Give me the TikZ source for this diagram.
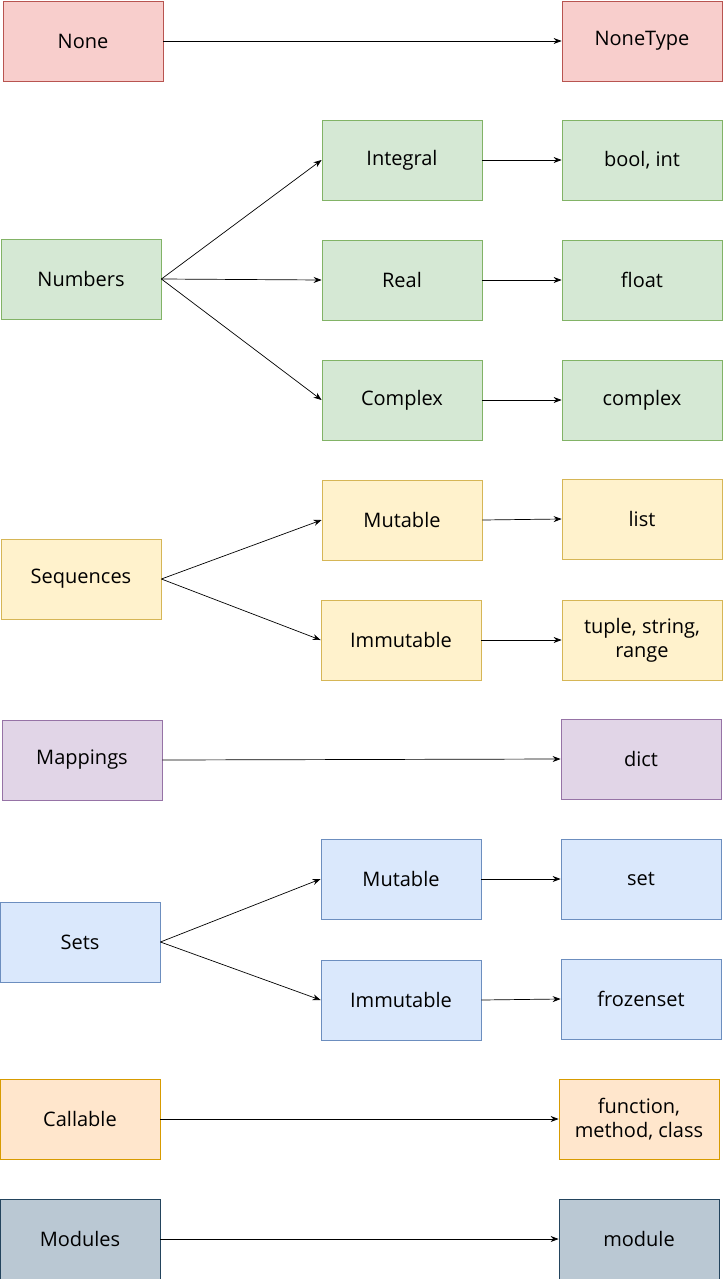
\documentclass[tikz,border=0pt]{standalone}
\usepackage{fontspec}
\setmainfont{Open Sans}
\usetikzlibrary{arrows.meta}
\definecolor{rf}{HTML}{F8CECC}\definecolor{rs}{HTML}{B85450}
\definecolor{gf}{HTML}{D5E8D4}\definecolor{gs}{HTML}{82B366}
\definecolor{yf}{HTML}{FFF2CC}\definecolor{ys}{HTML}{D6B656}
\definecolor{pf}{HTML}{E1D5E7}\definecolor{ps}{HTML}{9673A6}
\definecolor{bf}{HTML}{DAE8FC}\definecolor{bs}{HTML}{6C8EBF}
\definecolor{of}{HTML}{FFE6CC}\definecolor{os}{HTML}{D79B00}
\definecolor{sf}{HTML}{BAC8D3}\definecolor{ss}{HTML}{23445D}
\begin{document}
\begin{tikzpicture}[x=1pt,y=-1pt,
 box/.style={draw,line width=0.8pt,minimum width=160pt,minimum height=80pt,inner sep=0pt,align=center,font=\fontsize{20pt}{24pt}\selectfont},
 red/.style={box,fill=rf,draw=rs}, grn/.style={box,fill=gf,draw=gs},
 yel/.style={box,fill=yf,draw=ys}, pur/.style={box,fill=pf,draw=ps},
 blu/.style={box,fill=bf,draw=bs}, org/.style={box,fill=of,draw=os},
 gry/.style={box,fill=sf,draw=ss},
 ar/.style={-{Stealth[length=8pt,width=6pt]},line width=0.7pt}]
\useasboundingbox (0,0) rectangle (724,1279);
\node[red] (none) at (83,41) {None};
\node[red] (nonet) at (642,41) {NoneType};
\node[grn] (num) at (81,279) {Numbers};
\node[grn] (int) at (402,160) {Integral};
\node[grn] (bi) at (642,160) {bool, int};
\node[grn] (real) at (402,280) {Real};
\node[grn] (flt) at (642,280) {float};
\node[grn] (cpx) at (402,400) {Complex};
\node[grn] (cpxt) at (642,400) {complex};
\node[yel] (seq) at (81,579) {Sequences};
\node[yel] (mut) at (402,520) {Mutable};
\node[yel] (lst) at (642,519) {list};
\node[yel] (imm) at (401,640) {Immutable};
\node[yel] (tup) at (642,640) {tuple, string,\\range};
\node[pur] (map) at (82,760) {Mappings};
\node[pur] (dict) at (641,759) {dict};
\node[blu] (sets) at (80,942) {Sets};
\node[blu] (smut) at (401,879) {Mutable};
\node[blu] (set) at (641,879) {set};
\node[blu] (simm) at (401,1000) {Immutable};
\node[blu] (fset) at (641,999) {frozenset};
\node[org] (call) at (80,1119) {Callable};
\node[org] (fun) at (639,1119) {function,\\method, class};
\node[gry] (mod) at (80,1239) {Modules};
\node[gry] (modt) at (639,1239) {module};
\draw[ar] (none.east) -- (nonet.west);
\draw[ar] (num.east) -- (int.west);
\draw[ar] (num.east) -- (real.west);
\draw[ar] (num.east) -- (cpx.west);
\draw[ar] (int.east) -- (bi.west);
\draw[ar] (real.east) -- (flt.west);
\draw[ar] (cpx.east) -- (cpxt.west);
\draw[ar] (seq.east) -- (mut.west);
\draw[ar] (seq.east) -- (imm.west);
\draw[ar] (mut.east) -- (lst.west);
\draw[ar] (imm.east) -- (tup.west);
\draw[ar] (map.east) -- (dict.west);
\draw[ar] (sets.east) -- (smut.west);
\draw[ar] (sets.east) -- (simm.west);
\draw[ar] (smut.east) -- (set.west);
\draw[ar] (simm.east) -- (fset.west);
\draw[ar] (call.east) -- (fun.west);
\draw[ar] (mod.east) -- (modt.west);
\end{tikzpicture}
\end{document}
